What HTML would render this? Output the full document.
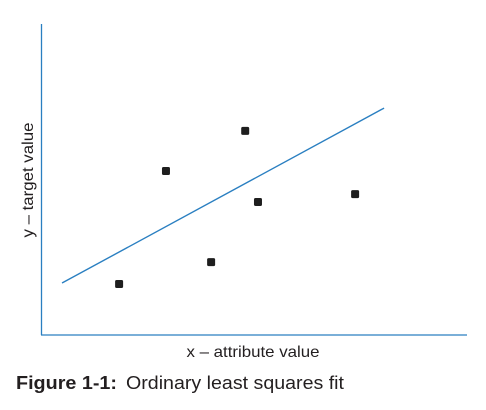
<!DOCTYPE html>
<html><head><meta charset="utf-8"><style>
html,body{margin:0;padding:0;background:#fff;width:486px;height:410px;overflow:hidden}
svg text{font-family:"Liberation Sans",sans-serif;fill:#231f20}
</style></head><body>
<svg id="chart" width="486" height="410" viewBox="0 0 486 410" xmlns="http://www.w3.org/2000/svg">
<line x1="41.5" y1="24" x2="41.5" y2="335" stroke="#2a7fc1" stroke-width="1.3"/>
<line x1="41" y1="335" x2="467" y2="335" stroke="#2a7fc1" stroke-width="1.3"/>
<g id="marks"></g>
<text x="253" y="357" font-size="16" text-anchor="middle" textLength="133" lengthAdjust="spacingAndGlyphs">x – attribute value</text>
<text transform="translate(33,180) rotate(-90)" font-size="16" text-anchor="middle" textLength="115" lengthAdjust="spacingAndGlyphs">y – target value</text>
<text x="16" y="389" font-size="18"><tspan font-weight="bold" textLength="101" lengthAdjust="spacingAndGlyphs">Figure 1-1:</tspan><tspan x="126" textLength="218" lengthAdjust="spacingAndGlyphs">Ordinary least squares fit</tspan></text>
</svg>
<script>
const pointX = [18.1, 29.1, 39.7, 47.7, 50.7, 73.5];
const pointY = [16.3, 52.4, 23.3, 65.2, 42.5, 45.0];
const fitX = [4.7, 80.3];
const fitY = [16.6, 72.5];
function xs(v){return 42 + v/100*426;}
function ys(v){return 335 - v/100*313;}
const NS='http://www.w3.org/2000/svg';
const g=document.getElementById('marks');
const ln=document.createElementNS(NS,'line');
ln.setAttribute('x1',xs(fitX[0]));ln.setAttribute('y1',ys(fitY[0]));
ln.setAttribute('x2',xs(fitX[1]));ln.setAttribute('y2',ys(fitY[1]));
ln.setAttribute('stroke','#2a7fc1');ln.setAttribute('stroke-width','1.4');


g.appendChild(ln);
for(let i=0;i<pointX.length;i++){
  const r=document.createElementNS(NS,'rect');
  r.setAttribute('x',xs(pointX[i])-4);r.setAttribute('y',ys(pointY[i])-4);
  r.setAttribute('width',8);r.setAttribute('height',8);r.setAttribute('rx',1.5);
  r.setAttribute('fill','#1e1e1e');
  
  
  g.appendChild(r);
}
</script>
</body></html>
